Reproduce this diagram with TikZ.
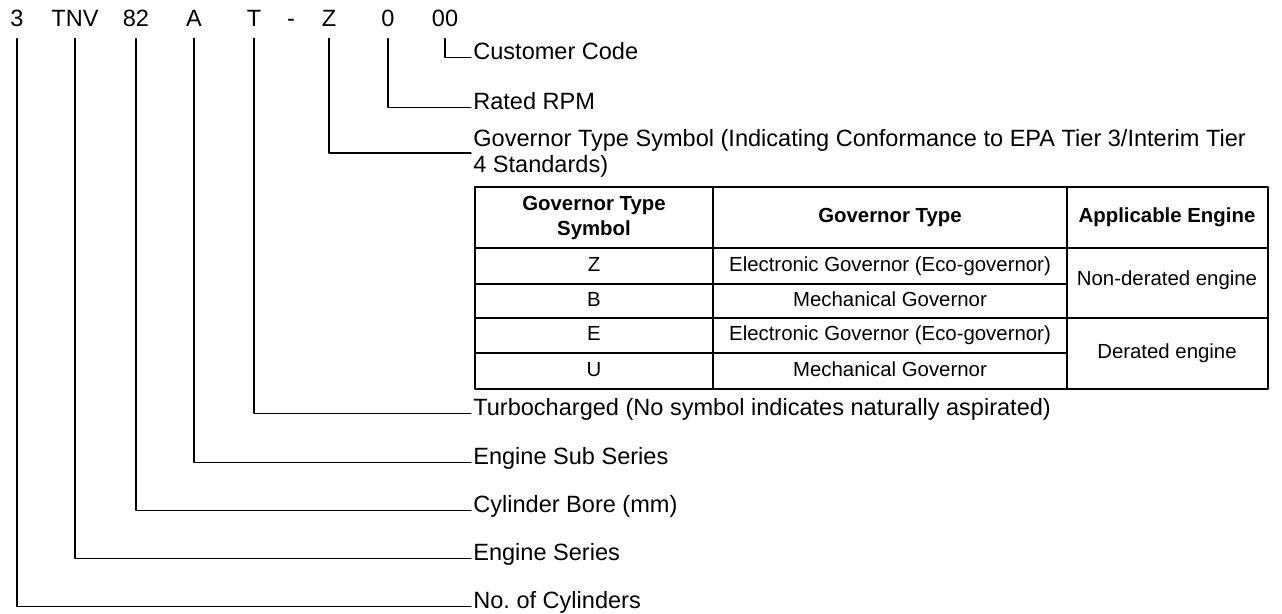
\documentclass[tikz,border=0pt]{standalone}
\usepackage{fontspec}
\setmainfont{Liberation Sans}
\begin{document}
\begin{tikzpicture}[x=0.02cm,y=-0.02cm,line join=round,line cap=round,
  code/.style={anchor=base,inner xsep=0pt,inner ysep=0.22cm,font=\fontsize{13.4}{16}\selectfont},
  lbl/.style={anchor=base west,inner sep=0pt,font=\fontsize{13.4}{16}\selectfont},
  cell/.style={anchor=base,inner sep=0pt,align=center,font=\fontsize{11.6}{14.5}\selectfont},
  head/.style={cell,font=\fontsize{11.6}{14.5}\selectfont\bfseries},
  lead/.style={line width=0.7pt}]
\useasboundingbox (0,0) rectangle (1282,614);
% model code
\foreach \n/\t/\x in {cyl/3/17, ser/TNV/75, bore/82/136, sub/A/194, tur/T/254, dsh/-/291, gov/Z/329, rpm/0/388, cus/00/445}
  \node[code] (\n) at (\x,27) {\t};
% meanings
\foreach \n/\y/\t in {lcus/60/Customer Code, lrpm/110/Rated RPM,
    ltur/416/Turbocharged (No symbol indicates naturally aspirated),
    lsub/465/Engine Sub Series, lbore/513/Cylinder Bore (mm),
    lser/561/Engine Series, lcyl/609/No.\ of Cylinders}
  \node[lbl] (\n) at (473,\y) {\t};
\node[lbl] (lgov) at (473,147) {Governor Type Symbol (Indicating Conformance to EPA Tier 3/Interim Tier};
\node[lbl] (lgov2) at (473,173) {4 Standards)};
\coordinate (kgov) at (471,153);
\foreach \a/\b in {cus/lcus, rpm/lrpm, tur/ltur, sub/lsub, bore/lbore, ser/lser, cyl/lcyl}
  \draw[lead] (\a.south) |- ([shift={(-0.04cm,0.05cm)}]\b.base west);
\draw[lead] (gov.south) |- (kgov);
% governor table
\draw[line width=1.3pt] (475,187) rectangle (1268,389);
\draw[lead] (713,187) -- (713,389) (1067,187) -- (1067,389)
  (475,248) -- (1268,248) (475,318) -- (1268,318)
  (475,284) -- (1067,284) (475,353) -- (1067,353);
\node[head] (h1) at (594,236) {Governor Type\\Symbol};
\node[head] (h2) at (890,223) {Governor Type};
\node[head] (h3) at (1167,223) {Applicable Engine};
\foreach \s/\g/\y in {Z/Electronic Governor (Eco-governor)/272, B/Mechanical Governor/307,
    E/Electronic Governor (Eco-governor)/341, U/Mechanical Governor/377}{
  \node[cell] (s\s) at (594,\y) {\s};
  \node[cell] (g\s) at (890,\y) {\g};
}
\node[cell] (eNon) at (1167,286) {Non-derated engine};
\node[cell] (eDer) at (1167,359) {Derated engine};
\end{tikzpicture}
\end{document}
